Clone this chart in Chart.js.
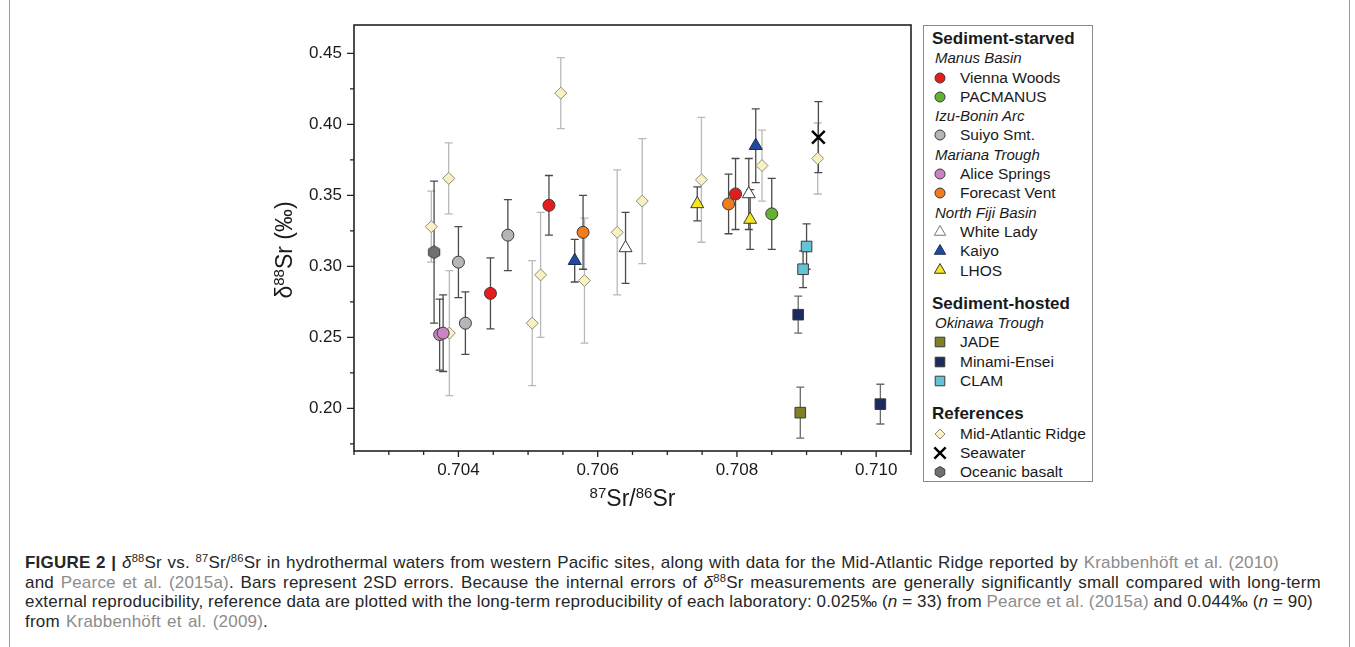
<!DOCTYPE html>
<html>
<head>
<meta charset="utf-8">
<title>d88Sr vs 87Sr/86Sr</title>
<script src="https://cdn.jsdelivr.net/npm/chart.js@4.4.1/dist/chart.umd.min.js"></script>
<style>
  body { margin: 0; background: #fff; font-family: "Liberation Sans", Arial, sans-serif; color: #1a1a1a; }
  #frame { position: absolute; left: 9px; top: -4px; width: 1339px; height: 700px; border: 1px solid #9a9a9a; }
  #chart { position: absolute; left: 0; top: 0; }
  #legend { position: absolute; left: 923px; top: 25px; width: 170px; height: 457px; box-sizing: border-box;
            border: 1px solid #8a8a8a; padding-top: 3px; }
  .row { height: 19.3px; line-height: 19.3px; white-space: nowrap; font-size: 15.5px; }
  .row canvas { vertical-align: middle; margin-left: 6px; margin-right: 10px; position: relative; top: -1px; }
  .head { font-weight: bold; font-size: 17px; padding-left: 8px; }
  .sub { font-style: italic; font-size: 15px; padding-left: 11px; }
  .gap { height: 14px; }
  #caption { position: absolute; left: 25px; top: 553px; font-size: 17px; line-height: 19.7px; color: #262626;
             white-space: nowrap; letter-spacing: 0.2px; }
  #caption .line { width: max-content; }
  #caption .ref { color: #8c8c8c; }
  #caption sup { font-size: 0.66em; line-height: 0; vertical-align: 0; position: relative; top: -0.5em; }
</style>
</head>
<body>
<div id="frame"></div>
<canvas id="chart" width="920" height="520"></canvas>
<div id="legend"></div>
<div id="caption">
  <div class="line" data-w="1254"><b>FIGURE 2 |</b> <i>δ</i><sup>88</sup>Sr vs. <sup>87</sup>Sr/<sup>86</sup>Sr in hydrothermal waters from western Pacific sites, along with data for the Mid-Atlantic Ridge reported by <span class="ref">Krabbenhöft et al. (2010)</span></div>
  <div class="line" data-w="1296">and <span class="ref">Pearce et al. (2015a)</span>. Bars represent 2SD errors. Because the internal errors of <i>δ</i><sup>88</sup>Sr measurements are generally significantly small compared with long-term</div>
  <div class="line" data-w="1288">external reproducibility, reference data are plotted with the long-term reproducibility of each laboratory: 0.025‰ (<i>n</i> = 33) from <span class="ref">Pearce et al. (2015a)</span> and 0.044‰ (<i>n</i> = 90)</div>
  <div class="line" data-w="243">from <span class="ref">Krabbenhöft et al. (2009)</span>.</div>
</div>
<script>
const FONT = '"Liberation Sans", Arial, sans-serif';

// values: x = 87Sr/86Sr, y = d88Sr (permil), err = 2SD
const viennaX = [0.70446, 0.70530, 0.70798];
const viennaY = [0.281, 0.343, 0.351];
const viennaErr = [0.025, 0.021, 0.025];

const pacmanusX = [0.70850];
const pacmanusY = [0.337];
const pacmanusErr = [0.025];

const suiyoX = [0.70400, 0.70410, 0.70471];
const suiyoY = [0.303, 0.260, 0.322];
const suiyoErr = [0.025, 0.022, 0.025];

const aliceX = [0.70373, 0.70378];
const aliceY = [0.252, 0.253];
const aliceErr = [0.025, 0.027];

const forecastX = [0.70579, 0.70788];
const forecastY = [0.324, 0.344];
const forecastErr = [0.026, 0.021];

const whiteLadyX = [0.70640, 0.70817];
const whiteLadyY = [0.313, 0.351];
const whiteLadyErr = [0.025, 0.025];

const kaiyoX = [0.70567, 0.70827];
const kaiyoY = [0.304, 0.385];
const kaiyoErr = [0.015, 0.026];

const lhosX = [0.70743, 0.70819];
const lhosY = [0.344, 0.333];
const lhosErr = [0.012, 0.021];

const jadeX = [0.70891];
const jadeY = [0.197];
const jadeErr = [0.018];

const minamiX = [0.70888, 0.71006];
const minamiY = [0.266, 0.203];
const minamiErr = [0.013, 0.014];

const clamX = [0.70895, 0.70900];
const clamY = [0.298, 0.314];
const clamErr = [0.013, 0.016];

const marX = [0.70361, 0.70386, 0.70387, 0.70506, 0.70518, 0.70547, 0.70581, 0.70628, 0.70664, 0.70749, 0.70836, 0.70916];
const marY = [0.328, 0.362, 0.253, 0.260, 0.294, 0.422, 0.290, 0.324, 0.346, 0.361, 0.371, 0.376];
const marErr = [0.025, 0.025, 0.044, 0.044, 0.044, 0.025, 0.044, 0.044, 0.044, 0.044, 0.025, 0.025];

const seawaterX = [0.70917];
const seawaterY = [0.391];
const seawaterErr = [0.025];

const basaltX = [0.70365];
const basaltY = [0.310];
const basaltErr = [0.050];

// tick positions (all) and the ones that carry a label
const xTickValues = [0.7025, 0.703, 0.7035, 0.704, 0.7045, 0.705, 0.7055, 0.706, 0.7065,
                     0.707, 0.7075, 0.708, 0.7085, 0.709, 0.7095, 0.710, 0.7105];
const xTickLabels = [0.704, 0.706, 0.708, 0.710];
const yTickValues = [0.175, 0.20, 0.225, 0.25, 0.275, 0.30, 0.325, 0.35, 0.375, 0.40, 0.425, 0.45];
const yTickLabels = [0.20, 0.25, 0.30, 0.35, 0.40, 0.45];

function pts(xs, ys, es) {
  return xs.map((x, i) => ({ x: x, y: ys[i], err: es[i] }));
}

// hexagon marker for oceanic basalt
function hexagon(r) {
  const c = document.createElement('canvas');
  c.width = c.height = Math.ceil(r * 2 + 3);
  const g = c.getContext('2d');
  g.beginPath();
  for (let k = 0; k < 6; k++) {
    const a = Math.PI / 2 + k * Math.PI / 3;
    g.lineTo(c.width / 2 + r * Math.cos(a), c.height / 2 + r * Math.sin(a));
  }
  g.closePath();
  g.fillStyle = '#707070';
  g.fill();
  g.strokeStyle = '#3a3a3a';
  g.lineWidth = 1;
  g.stroke();
  return c;
}

const DARK = '#4a4a4a';
const datasets = [
  { label: 'Mid-Atlantic Ridge', data: pts(marX, marY, marErr), pointStyle: 'rectRot', pointRadius: 6,
    backgroundColor: '#f7f1c4', borderColor: '#8c8c7c', errColor: '#b9b9b9', order: 9, legendRadius: 5 },
  { label: 'Oceanic basalt', data: pts(basaltX, basaltY, basaltErr), pointStyle: hexagon(6.5), pointRadius: 6,
    backgroundColor: '#707070', borderColor: '#3a3a3a', errColor: DARK, order: 8, legendStyle: hexagon(5.5) },
  { label: 'Suiyo Smt.', data: pts(suiyoX, suiyoY, suiyoErr), pointStyle: 'circle', pointRadius: 6,
    backgroundColor: '#b6b6b6', borderColor: '#3a3a3a', errColor: DARK, order: 4, legendRadius: 5 },
  { label: 'Vienna Woods', data: pts(viennaX, viennaY, viennaErr), pointStyle: 'circle', pointRadius: 6,
    backgroundColor: '#e51c1c', borderColor: '#3a3a3a', errColor: DARK, order: 4, legendRadius: 5 },
  { label: 'PACMANUS', data: pts(pacmanusX, pacmanusY, pacmanusErr), pointStyle: 'circle', pointRadius: 6,
    backgroundColor: '#62b22f', borderColor: '#3a3a3a', errColor: DARK, order: 4, legendRadius: 5 },
  { label: 'Alice Springs', data: pts(aliceX, aliceY, aliceErr), pointStyle: 'circle', pointRadius: 6,
    backgroundColor: '#c985c3', borderColor: '#3a3a3a', errColor: DARK, order: 4, legendRadius: 5 },
  { label: 'Forecast Vent', data: pts(forecastX, forecastY, forecastErr), pointStyle: 'circle', pointRadius: 6,
    backgroundColor: '#f07c1b', borderColor: '#3a3a3a', errColor: DARK, order: 4, legendRadius: 5 },
  { label: 'White Lady', data: pts(whiteLadyX, whiteLadyY, whiteLadyErr), pointStyle: 'triangle', pointRadius: 7.5,
    backgroundColor: '#ffffff', borderColor: '#3a3a3a', errColor: DARK, order: 3, legendRadius: 6.5, legendBorder: '#777' },
  { label: 'Kaiyo', data: pts(kaiyoX, kaiyoY, kaiyoErr), pointStyle: 'triangle', pointRadius: 7.5,
    backgroundColor: '#1d4c9e', borderColor: '#1a2a50', errColor: DARK, order: 3, legendRadius: 6.5 },
  { label: 'LHOS', data: pts(lhosX, lhosY, lhosErr), pointStyle: 'triangle', pointRadius: 7.5,
    backgroundColor: '#f5e61f', borderColor: '#3a3a3a', errColor: DARK, order: 3, legendRadius: 6.5 },
  { label: 'JADE', data: pts(jadeX, jadeY, jadeErr), pointStyle: 'rect', pointRadius: 7.5,
    backgroundColor: '#7f7f24', borderColor: '#3a3a3a', errColor: '#6a6a6a', order: 3, legendRadius: 6.8 },
  { label: 'Minami-Ensei', data: pts(minamiX, minamiY, minamiErr), pointStyle: 'rect', pointRadius: 7.5,
    backgroundColor: '#1c2a5c', borderColor: '#3a3a3a', errColor: '#6a6a6a', order: 3, legendRadius: 6.8 },
  { label: 'CLAM', data: pts(clamX, clamY, clamErr), pointStyle: 'rect', pointRadius: 7.5,
    backgroundColor: '#64c4d6', borderColor: '#3a3a3a', errColor: DARK, order: 2, legendRadius: 6.8 },
  { label: 'Seawater', data: pts(seawaterX, seawaterY, seawaterErr), pointStyle: 'crossRot', pointRadius: 9,
    backgroundColor: '#000', borderColor: '#000', borderWidth: 2.4, errColor: DARK, order: 1, legendRadius: 8 }
];
datasets.forEach(ds => {
  ds.pointBackgroundColor = ds.backgroundColor;
  ds.pointBorderColor = ds.borderColor;
  ds.pointBorderWidth = ds.borderWidth || 1;
});

const near = (v, list) => list.some(t => Math.abs(t - v) < 1e-7);

// 2SD error bars, drawn under the markers
const errorBars = {
  id: 'errorBars',
  beforeDatasetsDraw(chart) {
    const { ctx, scales: { x, y } } = chart;
    ctx.save();
    ctx.lineWidth = 1.3;
    chart.data.datasets.slice().sort((a, b) => b.order - a.order).forEach(ds => {
      ctx.strokeStyle = ds.errColor;
      ds.data.forEach(p => {
        const px = x.getPixelForValue(p.x);
        const top = y.getPixelForValue(p.y + p.err);
        const bot = y.getPixelForValue(p.y - p.err);
        ctx.beginPath();
        ctx.moveTo(px, top); ctx.lineTo(px, bot);
        ctx.moveTo(px - 4, top); ctx.lineTo(px + 4, top);
        ctx.moveTo(px - 4, bot); ctx.lineTo(px + 4, bot);
        ctx.stroke();
      });
    });
    ctx.restore();
  }
};

function drawRich(ctx, parts, cx, by) {
  const font = p => (p.sup ? '15px ' : '23px ') + FONT;
  let w = 0;
  parts.forEach(p => { ctx.font = font(p); w += ctx.measureText(p.t).width; });
  let x = cx - w / 2;
  ctx.textAlign = 'left';
  ctx.textBaseline = 'alphabetic';
  parts.forEach(p => {
    ctx.font = font(p);
    ctx.fillText(p.t, x, p.sup ? by - 8.5 : by);
    x += ctx.measureText(p.t).width;
  });
}

// box frame, outward major/minor ticks and axis titles
const frame = {
  id: 'frame',
  afterDraw(chart) {
    const { ctx, chartArea: a, scales: { x, y } } = chart;
    ctx.save();
    ctx.strokeStyle = '#222';
    ctx.lineWidth = 1.6;
    ctx.strokeRect(a.left, a.top, a.right - a.left, a.bottom - a.top);
    ctx.lineWidth = 1.3;
    ctx.beginPath();
    x.ticks.forEach(t => {
      const px = x.getPixelForValue(t.value);
      ctx.moveTo(px, a.bottom);
      ctx.lineTo(px, a.bottom + (t.label ? 6 : 4));
    });
    y.ticks.forEach(t => {
      const py = y.getPixelForValue(t.value);
      ctx.moveTo(a.left, py);
      ctx.lineTo(a.left - (t.label ? 7 : 4), py);
    });
    ctx.stroke();

    ctx.fillStyle = '#1a1a1a';
    drawRich(ctx, [{ t: '87', sup: true }, { t: 'Sr/' }, { t: '86', sup: true }, { t: 'Sr' }], (a.left + a.right) / 2, 506);
    ctx.translate(292, 250);
    ctx.rotate(-Math.PI / 2);
    drawRich(ctx, [{ t: 'δ' }, { t: '88', sup: true }, { t: 'Sr (‰)' }], 0, 0);
    ctx.restore();
  }
};

new Chart(document.getElementById('chart'), {
  type: 'scatter',
  data: { datasets: datasets },
  options: {
    responsive: false,
    animation: false,
    layout: { autoPadding: false, padding: { left: 260, top: 25, right: 5, bottom: 0 } },
    plugins: { legend: { display: false }, tooltip: { enabled: false } },
    scales: {
      x: {
        type: 'linear',
        min: 0.7025,
        max: 0.7105,
        grid: { display: false, drawTicks: false },
        border: { display: false },
        ticks: {
          autoSkip: false,
          maxRotation: 0,
          padding: 9,
          color: '#1a1a1a',
          font: { family: FONT, size: 17 },
          callback: v => near(v, xTickLabels) ? v.toFixed(3) : ''
        },
        afterBuildTicks: s => { s.ticks = xTickValues.map(v => ({ value: v })); },
        afterFit: s => { s.height = 69; }
      },
      y: {
        type: 'linear',
        min: 0.17,
        max: 0.47,
        grid: { display: false, drawTicks: false },
        border: { display: false },
        ticks: {
          autoSkip: false,
          padding: 12,
          color: '#1a1a1a',
          font: { family: FONT, size: 17 },
          callback: v => near(v, yTickLabels) ? v.toFixed(2) : ''
        },
        afterBuildTicks: s => { s.ticks = yTickValues.map(v => ({ value: v })); },
        afterFit: s => { s.width = 94; }
      }
    }
  },
  plugins: [errorBars, frame]
});

// legend box
const legendRows = [
  ['head', 'Sediment-starved'], ['sub', 'Manus Basin'], ['item', 'Vienna Woods'], ['item', 'PACMANUS'],
  ['sub', 'Izu-Bonin Arc'], ['item', 'Suiyo Smt.'],
  ['sub', 'Mariana Trough'], ['item', 'Alice Springs'], ['item', 'Forecast Vent'],
  ['sub', 'North Fiji Basin'], ['item', 'White Lady'], ['item', 'Kaiyo'], ['item', 'LHOS'],
  ['gap'], ['head', 'Sediment-hosted'], ['sub', 'Okinawa Trough'], ['item', 'JADE'], ['item', 'Minami-Ensei'], ['item', 'CLAM'],
  ['gap'], ['head', 'References'], ['item', 'Mid-Atlantic Ridge'], ['item', 'Seawater'], ['item', 'Oceanic basalt']
];

const legendEl = document.getElementById('legend');
legendRows.forEach(([kind, text]) => {
  const row = document.createElement('div');
  if (kind === 'gap') {
    row.className = 'gap';
  } else if (kind === 'item') {
    row.className = 'row';
    const ds = datasets.find(d => d.label === text);
    const c = document.createElement('canvas');
    c.width = 20; c.height = 18;
    const g = c.getContext('2d');
    g.fillStyle = ds.backgroundColor;
    g.strokeStyle = ds.legendBorder || ds.borderColor;
    g.lineWidth = ds.pointBorderWidth;
    Chart.helpers.drawPoint(g, {
      pointStyle: ds.legendStyle || ds.pointStyle,
      radius: ds.legendRadius,
      rotation: 0,
      borderWidth: ds.pointBorderWidth
    }, 10, 9);
    row.appendChild(c);
    row.appendChild(document.createTextNode(text));
  } else {
    row.className = 'row ' + kind;
    row.textContent = text;
  }
  legendEl.appendChild(row);
});

// stretch caption lines to the widths they have in the figure
document.querySelectorAll('#caption .line').forEach(line => {
  const spaces = (line.textContent.match(/ /g) || []).length;
  const extra = +line.dataset.w - line.getBoundingClientRect().width;
  if (spaces) line.style.wordSpacing = (extra / spaces).toFixed(2) + 'px';
});
</script>
</body>
</html>
